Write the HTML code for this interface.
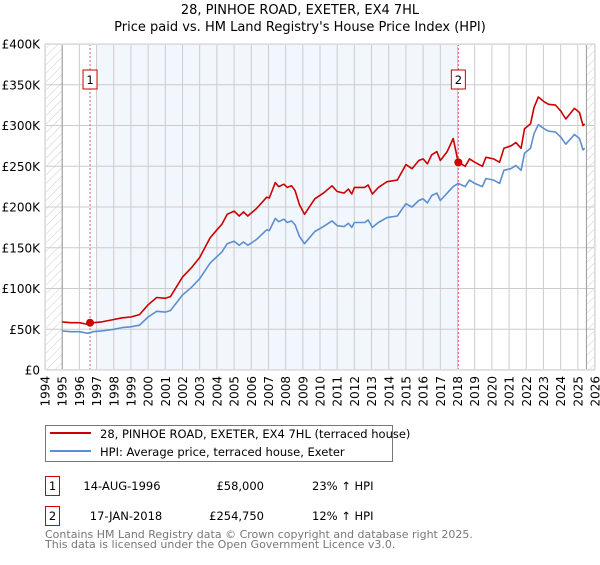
<!DOCTYPE html>
<html><head><meta charset="utf-8"><style>
body{margin:0;background:#fff;font-family:"Liberation Sans","DejaVu Sans",sans-serif;}
svg text{font-family:"DejaVu Sans","Liberation Sans",sans-serif;}
</style></head><body>
<svg id="chart" width="600" height="560" viewBox="0 0 600 560" xmlns="http://www.w3.org/2000/svg">
<defs>
<pattern id="hatch" width="6" height="6" patternUnits="userSpaceOnUse" patternTransform="rotate(45)">
<line x1="0" y1="0" x2="0" y2="6" stroke="#ccc" stroke-width="1"/></pattern>
</defs>
<text x="300" y="14" text-anchor="middle" font-size="13">28, PINHOE ROAD, EXETER, EX4 7HL</text>
<text x="300" y="31" text-anchor="middle" font-size="13">Price paid vs. HM Land Registry's House Price Index (HPI)</text>
<g id="plot"></g>
<g>
<rect x="45.5" y="425.5" width="347" height="36" fill="#fff" stroke="#777"/>
<line x1="50" y1="433" x2="91" y2="433" stroke="#cc0000" stroke-width="2"/>
<text x="100" y="438" font-size="11.5">28, PINHOE ROAD, EXETER, EX4 7HL (terraced house)</text>
<line x1="50" y1="451" x2="91" y2="451" stroke="#5b8fd0" stroke-width="2"/>
<text x="100" y="456" font-size="11.5">HPI: Average price, terraced house, Exeter</text>
</g>
<g font-size="11.5">
<rect x="45.5" y="476.5" width="14" height="19" fill="#fff" stroke="#cc0000"/>
<text x="52.5" y="490" text-anchor="middle">1</text>
<text x="122" y="490" text-anchor="middle">14-AUG-1996</text>
<text x="264" y="490" text-anchor="end">£58,000</text>
<text x="312" y="490">23% ↑ HPI</text>
<rect x="45.5" y="506.5" width="14" height="19" fill="#fff" stroke="#cc0000"/>
<text x="52.5" y="520" text-anchor="middle">2</text>
<text x="126" y="520" text-anchor="middle">17-JAN-2018</text>
<text x="264" y="520" text-anchor="end">£254,750</text>
<text x="312" y="520">12% ↑ HPI</text>
</g>
<text x="45" y="538" font-size="11" fill="#777">Contains HM Land Registry data © Crown copyright and database right 2025.</text>
<text x="45" y="548" font-size="11" fill="#777">This data is licensed under the Open Government Licence v3.0.</text>
</svg>
<script>
const yTicks=[0,50,100,150,200,250,300,350,400];
const yLabels=["£0","£50K","£100K","£150K","£200K","£250K","£300K","£350K","£400K"];
const years=[1994,1995,1996,1997,1998,1999,2000,2001,2002,2003,2004,2005,2006,2007,2008,2009,2010,2011,2012,2013,2014,2015,2016,2017,2018,2019,2020,2021,2022,2023,2024,2025,2026];
const hpiT=[1995.0,1995.5,1996.0,1996.5,1996.8,1997.3,1998.0,1998.5,1999.0,1999.5,2000.0,2000.5,2001.0,2001.3,2002.0,2002.5,2003.0,2003.6,2004.0,2004.3,2004.6,2005.0,2005.3,2005.55,2005.8,2006.3,2006.9,2007.05,2007.4,2007.6,2007.9,2008.1,2008.35,2008.55,2008.8,2009.1,2009.7,2010.2,2010.7,2011.0,2011.4,2011.65,2011.85,2012.0,2012.6,2012.8,2013.05,2013.4,2013.9,2014.5,2015.0,2015.35,2015.75,2016.0,2016.25,2016.5,2016.8,2017.0,2017.4,2017.75,2018.04,2018.45,2018.7,2019.0,2019.45,2019.65,2020.1,2020.45,2020.7,2021.1,2021.4,2021.7,2021.9,2022.25,2022.45,2022.7,2023.05,2023.3,2023.7,2024.0,2024.3,2024.8,2025.1,2025.3,2025.4];
const hpiV=[48,47,47,45,47,48,50,52,53,55,65,72,71,73,92,101,112,131,139,145,155,158,153,157,153,160,172,171,186,182,185,181,183,178,164,155,170,176,183,177,176,180,175,181,181,184,175,181,187,189,204,200,208,210,205,214,217,208,217,225,229,225,233,229,225,235,233,229,245,247,251,245,266,272,290,301,296,293,292,286,277,289,284,270,272];
const priceV=[59,58,58,56,58,59,62,64,65,68,80,89,88,90,114,125,138,162,172,179,191,195,189,194,189,198,212,211,230,225,228,224,226,220,203,191,210,217,226,219,217,222,216,224,224,227,216,224,231,233,252,247,257,259,253,264,268,257,268,284,255,250,259,255,250,261,259,255,272,275,279,272,296,302,322,335,329,326,325,318,308,321,316,300,302];
const saleT=[1996.62,2018.05];
const saleV=[58,254.75];
const saleLabels=["1","2"];

const NS="http://www.w3.org/2000/svg";
const L=45,R=595,T=44,B=370;
const x=t=>L+(t-1994)/(2026-1994)*(R-L);
const y=v=>B-v/400*(B-T);
const g=document.getElementById('plot');
function mk(tag,attrs){const e=document.createElementNS(NS,tag);for(const k in attrs)e.setAttribute(k,attrs[k]);g.appendChild(e);return e;}
let e;
e=mk('rect',{x:L,y:T,width:R-L,height:B-T,fill:'#fff'});


e=mk('rect',{x:x(1997),y:T,width:x(saleT[1])-x(1997),height:B-T,fill:'#f2f6fd'});


e=mk('rect',{x:L,y:T,width:x(1995)-L,height:B-T,fill:'url(#hatch)'});


e=mk('rect',{x:x(2025.5),y:T,width:R-x(2025.5),height:B-T,fill:'url(#hatch)'});


years.forEach(yr=>{
 e=mk('line',{x1:x(yr),x2:x(yr),y1:T,y2:B,stroke:'#ccc','stroke-width':1});
 
 
 e=mk('text',{x:0,y:0,'font-size':12,'text-anchor':'end',transform:`translate(${x(yr)+4.5},${B+6}) rotate(-90)`});
 e.textContent=yr;
 
 
});
yTicks.forEach((v,i)=>{
 e=mk('line',{x1:L,x2:R,y1:y(v),y2:y(v),stroke:'#ccc','stroke-width':1});
 
 
 e=mk('text',{x:L-5,y:y(v)+4.5,'font-size':12,'text-anchor':'end'});
 e.textContent=yLabels[i];
 
 
});
e=mk('line',{x1:x(1995),x2:x(1995),y1:T,y2:B,stroke:'#999'});


e=mk('line',{x1:x(2025.5),x2:x(2025.5),y1:T,y2:B,stroke:'#999'});


saleT.forEach((t,i)=>{
 e=mk('line',{x1:x(t),x2:x(t),y1:T,y2:B,stroke:'#e06070','stroke-dasharray':'2,2'});
 
 
 e=mk('rect',{x:x(t)-7,y:70,width:14,height:19,fill:'#fff',stroke:'#cc0000'});
 
 
 e=mk('text',{x:x(t),y:84,'font-size':11.5,'text-anchor':'middle'});
 e.textContent=saleLabels[i];
 
 
});
const pts=(ts,vs)=>ts.map((t,i)=>x(t).toFixed(1)+','+y(vs[i]).toFixed(1)).join(' ');
e=mk('polyline',{points:pts(hpiT,hpiV),fill:'none',stroke:'#5b8fd0','stroke-width':1.6,'stroke-linejoin':'round'});


e=mk('polyline',{points:pts(hpiT,priceV),fill:'none',stroke:'#cc0000','stroke-width':1.6,'stroke-linejoin':'round'});


saleT.forEach((t,i)=>{
 e=mk('circle',{cx:x(t),cy:y(saleV[i]),r:4,fill:'#cc0000'});
 
 
});
e=mk('rect',{x:L+0.5,y:T+0.5,width:R-L-1,height:B-T-1,fill:'none',stroke:'#ddd'});


</script>
</body></html>
